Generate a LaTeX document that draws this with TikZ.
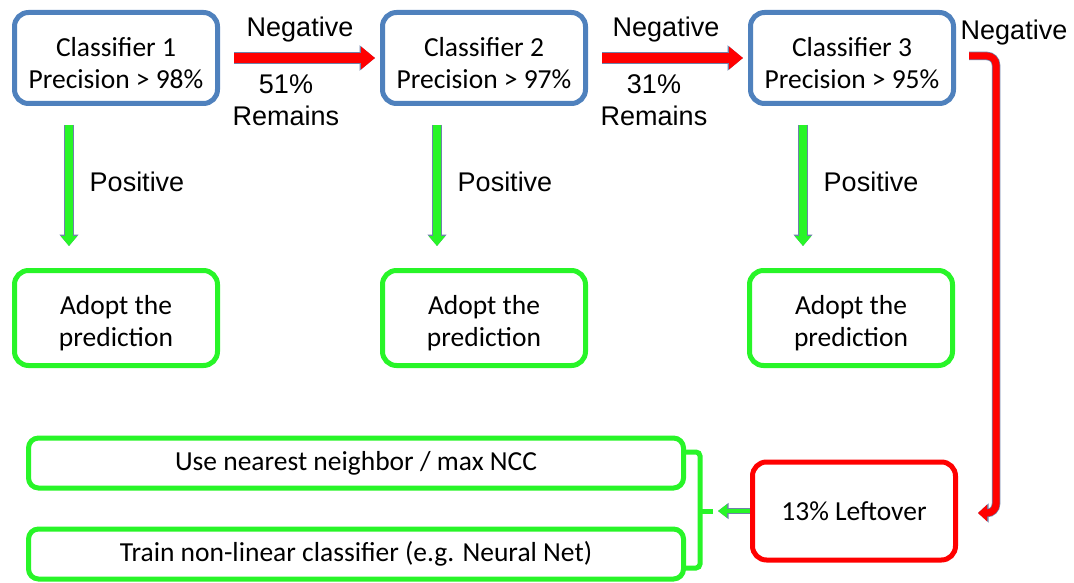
\documentclass[tikz,border=0pt]{standalone}
\usepackage{fontspec}
\setmainfont{Carlito}
\newfontfamily\arialf{Liberation Sans}
\usetikzlibrary{arrows.meta}
\definecolor{cblue}{RGB}{79,129,189}
\definecolor{cgreen}{RGB}{40,245,40}
\definecolor{cred}{RGB}{255,0,0}
\definecolor{outl}{RGB}{110,130,170}
\newcommand{\lowstrut}{\rule{0pt}{29pt}}
\tikzset{
  boxbase/.style={line width=5pt, rounded corners=14pt, fill=white, align=center,
    font=\fontsize{27.5}{32}\selectfont, text=black},
  bluebox/.style={boxbase, draw=cblue, minimum width=203pt, minimum height=91pt},
  greenbox/.style={boxbase, draw=cgreen, minimum width=203pt, minimum height=95pt},
  redbox/.style={boxbase, draw=cred, minimum width=203pt, minimum height=98pt},
  widebox/.style={boxbase, draw=cgreen, minimum width=655pt, minimum height=50pt, rounded corners=10pt},
  lbl/.style={font=\arialf\fontsize{27}{32}\selectfont, align=center, text=black},
  redarrow/.style={line width=10pt, draw=cred, -{Triangle[length=14pt,width=22pt]},
    preaction={draw=outl, line width=11.5pt, -{Triangle[length=15.5pt,width=24.5pt]}}},
  greenarrow/.style={line width=8pt, draw=cgreen, -{Triangle[length=10pt,width=16pt]},
    preaction={draw=outl, line width=9.5pt, -{Triangle[length=11.5pt,width=18.5pt]}}},
  bentarrow/.style={line width=7pt, draw=cred, rounded corners=9pt, -{Triangle[length=9pt,width=16pt]},
    preaction={draw=outl, line width=8.5pt, -{Triangle[length=10.5pt,width=18.5pt]}}},
  smallarrow/.style={line width=4pt, draw=cgreen, -{Triangle[length=9pt,width=13pt]},
    preaction={draw=outl, line width=5.5pt, -{Triangle[length=10.5pt,width=15.5pt]}}},
  bracket/.style={line width=5pt, draw=cgreen, rounded corners=4pt}
}
\begin{document}
\begin{tikzpicture}[x=1pt,y=-1pt]
\useasboundingbox (0,0) rectangle (1074,583);
% classifiers
\node[bluebox] (c1) at (116,58) {\lowstrut Classifier 1\\Precision > 98\%};
\node[bluebox] (c2) at (484,58) {\lowstrut Classifier 2\\Precision > 97\%};
\node[bluebox] (c3) at (852,58) {\lowstrut Classifier 3\\Precision > 95\%};
% adopt boxes
\node[greenbox] (a1) at (116,318) {\lowstrut Adopt the\\prediction};
\node[greenbox] (a2) at (484,318) {\lowstrut Adopt the\\prediction};
\node[greenbox] (a3) at (851,318) {\lowstrut Adopt the\\prediction};
% leftover and methods
\node[redbox] (left) at (854,511) {13\% Leftover};
\node[widebox] (nn) at (356,463) {Use nearest neighbor / max NCC};
\node[widebox] (tr) at (356,554) {Train non-linear classifier (e.g. Neural Net)};
% labels
\node[lbl] (n1) at (300,30) {Negative};
\node[lbl] (n2) at (666,30) {Negative};
\node[lbl] (n3) at (1014,33) {Negative};
\node[lbl] (r1) at (286,100) {51\%\\Remains};
\node[lbl] (r2) at (654,100) {31\%\\Remains};
\node[lbl] (p1) at (137,182) {Positive};
\node[lbl] (p2) at (505,182) {Positive};
\node[lbl] (p3) at (871,182) {Positive};
% red arrows
\draw[redarrow] ([xshift=14pt]c1.east) -- ([xshift=-5pt]c2.west);
\draw[redarrow] ([xshift=14pt]c2.east) -- ([xshift=-5pt]c3.west);
% green arrows
\coordinate (g1s) at (69,125); \coordinate (g1e) at (69,246);
\coordinate (g2s) at (437,125); \coordinate (g2e) at (437,246);
\coordinate (g3s) at (803,125); \coordinate (g3e) at (803,246);
\draw[greenarrow] (g1s) -- (g1e);
\draw[greenarrow] (g2s) -- (g2e);
\draw[greenarrow] (g3s) -- (g3e);
% bent arrow to leftover
\coordinate (b0) at (969,56);
\coordinate (b1) at (996,56);
\coordinate (b2) at (996,513);
\coordinate (b3) at (978,513);
\draw[bentarrow] (b0) -- (b1) -- (b2) -- (b3);
% bracket
\coordinate (k1) at (684,452);
\coordinate (k2) at (700,452);
\coordinate (k3) at (700,568);
\coordinate (k4) at (684,568);
\coordinate (km) at (700,511);
\coordinate (kt) at (713,511);
\draw[bracket] (k1) -- (k2) -- (k3) -- (k4);
\draw[line width=5pt, draw=cgreen] (km) -- (kt);
\draw[smallarrow] (left.west) -- ([xshift=-32pt]left.west);
\end{tikzpicture}
\end{document}
